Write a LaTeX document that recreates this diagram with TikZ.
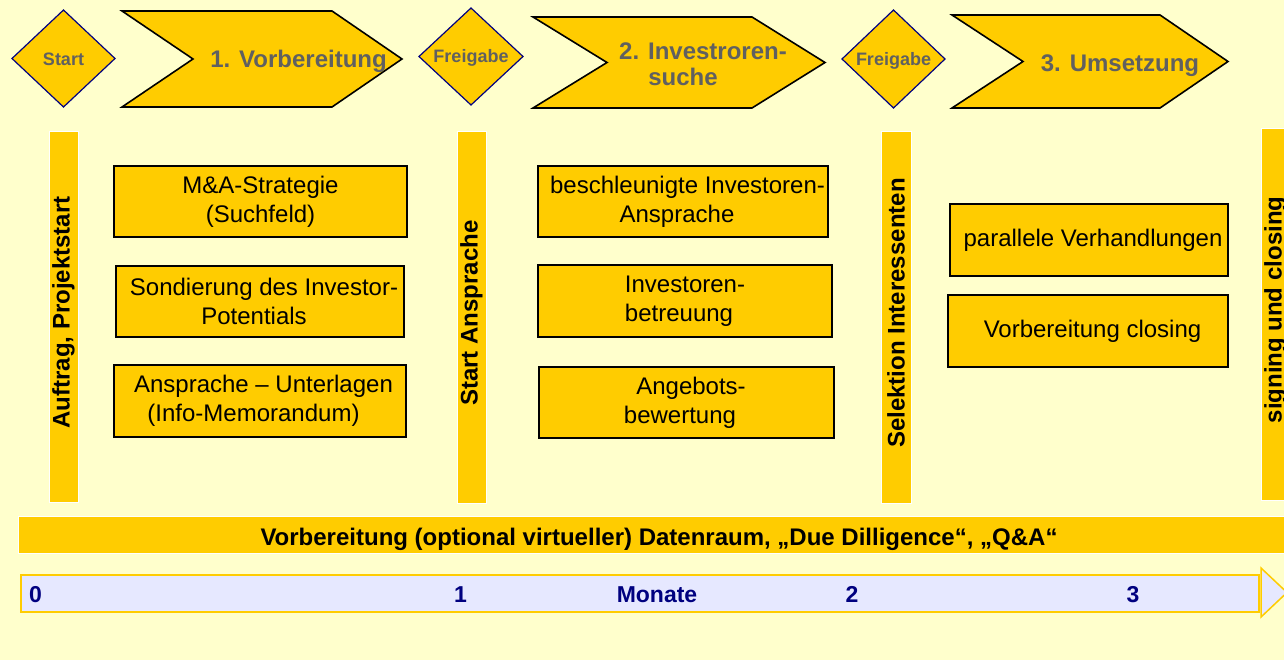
\documentclass[tikz,border=0pt]{standalone}
\usepackage{fontspec}
\setmainfont{Liberation Sans}
\definecolor{bg}{RGB}{255,255,204}
\definecolor{gold}{RGB}{255,204,0}
\definecolor{lav}{RGB}{230,232,255}
\definecolor{txtgray}{RGB}{96,96,96}
\definecolor{navyt}{RGB}{0,0,128}
\tikzset{
  diam/.style={draw=navyt, fill=gold, line width=1.2pt, line join=miter},
  chev/.style={draw=black, fill=gold, line width=1.6pt, line join=miter},
  dtext/.style={font=\fontsize{18}{20}\selectfont\bfseries, text=txtgray, inner sep=0pt},
  ctext/.style={font=\fontsize{24}{26}\selectfont\bfseries, text=txtgray, inner sep=0pt, align=center},
  taskbox/.style={draw=black, fill=gold, line width=1.8pt, align=center, inner sep=0pt,
    font=\fontsize{24}{29}\selectfont},
  vbar/.style={draw=white, fill=gold, line width=1pt, rotate=90, inner sep=0pt,
    font=\fontsize{24}{26}\selectfont\bfseries},
  hbar/.style={draw=white, fill=gold, line width=1pt, inner sep=0pt, text height=24pt, text depth=3pt,
    font=\fontsize{24}{26}\selectfont\bfseries},
  tlbox/.style={draw=gold, fill=lav, line width=1.5pt, line join=miter},
  tltext/.style={font=\fontsize{23}{25}\selectfont\bfseries, text=navyt, inner sep=0pt},
}
\begin{document}
\begin{tikzpicture}[x=1pt,y=-1pt]
\fill[bg] (0,0) rectangle (1284,660);
\useasboundingbox (0,0) rectangle (1284,660);
\clip (0,0) rectangle (1284,660);

% diamonds
\draw[diam] (12,58.5) -- (63.5,10) -- (115,58.5) -- (63.5,107) -- cycle;
\node[dtext, anchor=base] (start) at (63.5,66) {Start};
\draw[diam] (419,56.5) -- (471,8) -- (523,56.5) -- (471,105) -- cycle;
\node[dtext, anchor=base] (frei1) at (471,63) {Freigabe};
\draw[diam] (842,59) -- (893.5,10) -- (945,59) -- (893.5,108) -- cycle;
\node[dtext, anchor=base] (frei2) at (893.5,66) {Freigabe};

% chevrons
\draw[chev] (122,11) -- (332,11) -- (402,59) -- (332,107) -- (122,107) -- (193,59) -- cycle;
\node[ctext, anchor=base] (ph1) at (298.5,68) {1. Vorbereitung};
\draw[chev] (533,17) -- (752,17) -- (825,62.5) -- (752,108) -- (533,108) -- (607,62.5) -- cycle;
\node[ctext] (ph2) at (703,64.5) {2. Investroren-\\suche\hspace*{40pt}};
\draw[chev] (952,15) -- (1160,15) -- (1228,61.5) -- (1160,108) -- (952,108) -- (1023,61.5) -- cycle;
\node[ctext, anchor=base] (ph3) at (1120,71.5) {3. Umsetzung};

% vertical milestone bars
\node[vbar, minimum width=370, minimum height=29] (v1) at (63.5,317) {\hspace*{9pt}Auftrag, Projektstart};
\node[vbar, minimum width=371, minimum height=29] (v2) at (471.5,317.5) {\hspace*{9pt}Start Ansprache};
\node[vbar, minimum width=371, minimum height=30] (v3) at (896,317.5) {\hspace*{9pt}Selektion Interessenten};
\node[vbar, minimum width=371, minimum height=29] (v4) at (1275.5,314.5) {\hspace*{9pt}signing und closing};

% task boxes
\node[taskbox, minimum width=293, minimum height=71] (b1) at (260.5,201.5) {M\&A-Strategie\\(Suchfeld)};
\node[taskbox, minimum width=288, minimum height=71] (b2) at (260,301.5) {\hspace*{8pt}Sondierung des Investor-\\Potentials\hspace*{12pt}};
\node[taskbox, minimum width=292, minimum height=72] (b3) at (260,401) {\hspace*{7pt}Ansprache – Unterlagen\\(Info-Memorandum)\hspace*{13pt}};
\node[taskbox, minimum width=290, minimum height=71] (b4) at (683,201.5) {\hspace*{9pt}beschleunigte Investoren-\\Ansprache\hspace*{12pt}};
\node[taskbox, minimum width=294, minimum height=72] (b5) at (685,301) {Investoren-\\betreuung\hspace*{12pt}};
\node[taskbox, minimum width=295, minimum height=71] (b6) at (686.5,402.5) {\hspace*{9pt}Angebots-\\bewertung\hspace*{13pt}};
\node[taskbox, minimum width=278, minimum height=72] (b7) at (1089,240) {\hspace*{8pt}parallele Verhandlungen};
\node[taskbox, minimum width=280, minimum height=72] (b8) at (1088,331) {\hspace*{9pt}Vorbereitung closing};

% data room bar
\node[hbar, minimum width=1272, minimum height=37] (dr) at (654,534.5) {\hspace*{10pt}Vorbereitung (optional virtueller) Datenraum, „Due Dilligence“, „Q\&A“};

% timeline
\node[tlbox, minimum width=1238, minimum height=37] (tl) at (640,593.5) {};
\draw[tlbox] (1261,568) -- (1287,592.5) -- (1261,617) -- cycle;
\node[tltext, anchor=base west] (t0) at (29,602) {0};
\node[tltext, anchor=base] (t1) at (460.5,602) {1};
\node[tltext, anchor=base] (tm) at (657,602) {Monate};
\node[tltext, anchor=base] (t2) at (852,602) {2};
\node[tltext, anchor=base] (t3) at (1133,602) {3};
\end{tikzpicture}
\end{document}
